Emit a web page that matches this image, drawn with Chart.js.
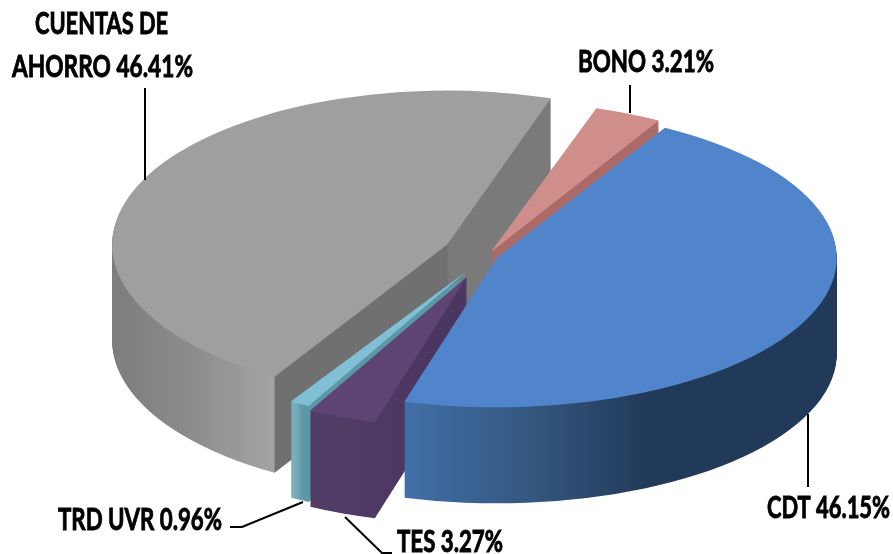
<!DOCTYPE html>
<html>
<head>
<meta charset="utf-8">
<title>Portafolio</title>
<script src="https://cdn.jsdelivr.net/npm/chart.js@4/dist/chart.umd.min.js"></script>
<style>
  body { margin: 0; background: #fff; }
  canvas { display: block; }
</style>
</head>
<body>
<canvas id="grafico" width="893" height="554"></canvas>
<script>
// Datos
const categorias = ['CUENTAS DE AHORRO', 'BONO', 'CDT', 'TES', 'TRD UVR'];
const valores = [46.41, 3.21, 46.15, 3.27, 0.96];

// Colores de la cara superior y de las paredes
const coloresTapa = ['#9f9f9f', '#d08e8b', '#5085cb', '#5e4475', '#80bfd4'];
const coloresPared = [
    [[0, '#7d7d7d'], [0.12, '#8c8c8c'], [0.241, '#a4a4a4'], [0.244, '#707070'], [0.5, '#707070'], [0.503, '#7a7a7a'], [1, '#7a7a7a']],
    [[0, '#a96a68'], [1, '#a96a68']],
    [[0, '#416ea6'], [0.37, '#416ea6'], [0.55, '#34577f'], [0.72, '#223a5a'], [1, '#223a5a']],
    [[0, '#513c66'], [0.3, '#513c66'], [0.45, '#4a3660'], [1, '#4a3660']],
    [[0, '#78adbe'], [0.25, '#78adbe'], [0.26, '#5c97a6'], [1, '#5c97a6']]
];

// Geometria de la vista 3D
const rotacion = 211;
const radio = 340;
const centroX = 482, centroY = 257;
const profundidad = 96;
const aplastado = [0.46, 0.445, 0.44, 0.445, 0.445];
const separacion = [39, 22, 16, 40, 33];
const ajusteY = [-5, 4, -2, 3, 2];
const escala = [0.985, 1, 1, 1, 1];
const ordenDibujo = [0, 1, 4, 3, 2];

function ponerVista(ctx, arco, i, dy) {
    const medio = (arco.startAngle + arco.endAngle) / 2;
    ctx.translate(centroX, centroY + ajusteY[i] + dy);
    ctx.scale(escala[i], escala[i] * aplastado[i]);
    ctx.translate(Math.cos(medio) * separacion[i], Math.sin(medio) * separacion[i]);
    ctx.translate(-arco.x, -arco.y);
}

// Texto ajustado a un ancho dado, con trazo para engrosarlo
function texto(ctx, cadena, izq, der, base) {
    const ancho = ctx.measureText(cadena).width;
    ctx.save();
    ctx.translate(izq, base);
    ctx.scale((der - izq) / ancho, 1);
    ctx.lineWidth = 0.9;
    ctx.strokeText(cadena, 0, 0);
    ctx.fillText(cadena, 0, 0);
    ctx.restore();
}

const pastel3d = {
    id: 'pastel3d',
    beforeDatasetDraw(chart) {
        const ctx = chart.ctx;
        const arcos = chart.getDatasetMeta(0).data;
        ordenDibujo.forEach(i => {
            const arco = arcos[i];
            const base = arco.options;
            const grad = ctx.createLinearGradient(arco.x - radio, 0, arco.x + radio, 0);
            coloresPared[i].forEach(p => grad.addColorStop(p[0], p[1]));
            arco.options = { ...base, backgroundColor: grad };
            for (let dy = profundidad; dy > 0; dy--) {
                ctx.save();
                ponerVista(ctx, arco, i, dy);
                arco.draw(ctx);
                ctx.restore();
            }
            arco.options = base;
            ctx.save();
            ponerVista(ctx, arco, i, 0);
            arco.draw(ctx);
            ctx.restore();
        });
        return false;
    },
    afterDraw(chart) {
        const ctx = chart.ctx;
        ctx.save();
        ctx.strokeStyle = '#000';
        ctx.lineWidth = 2;
        const lineas = [
            [[145, 88], [145, 180]],
            [[630, 85], [630, 113]],
            [[808, 414], [808, 487]],
            [[230, 527], [242, 527], [303, 502]],
            [[345, 517], [382, 553], [392, 553]]
        ];
        lineas.forEach(l => {
            ctx.beginPath();
            l.forEach((p, j) => j ? ctx.lineTo(p[0], p[1]) : ctx.moveTo(p[0], p[1]));
            ctx.stroke();
        });
        ctx.fillStyle = '#000';
        ctx.font = 'bold 30px Lato';
        ctx.textBaseline = 'alphabetic';
        ctx.textAlign = 'left';
        const pct = i => valores[i].toFixed(2) + '%';
        texto(ctx, 'CUENTAS DE', 35, 168, 34);
        texto(ctx, 'AHORRO ' + pct(0), 12, 193, 77);
        texto(ctx, categorias[1] + ' ' + pct(1), 578, 714, 72);
        texto(ctx, categorias[2] + ' ' + pct(2), 767, 890, 518);
        texto(ctx, categorias[4] + ' ' + pct(4), 58, 222, 530);
        texto(ctx, categorias[3] + ' ' + pct(3), 397, 503, 552);
        ctx.restore();
    }
};

new Chart(document.getElementById('grafico'), {
    type: 'pie',
    data: {
        labels: categorias,
        datasets: [{
            data: valores,
            backgroundColor: coloresTapa,
            borderWidth: 0
        }]
    },
    options: {
        responsive: false,
        animation: false,
        rotation: rotacion,
        radius: radio,
        events: [],
        layout: { padding: 0 },
        plugins: {
            legend: { display: false },
            tooltip: { enabled: false },
            title: { display: false }
        }
    },
    plugins: [pastel3d]
});
</script>
</body>
</html>
